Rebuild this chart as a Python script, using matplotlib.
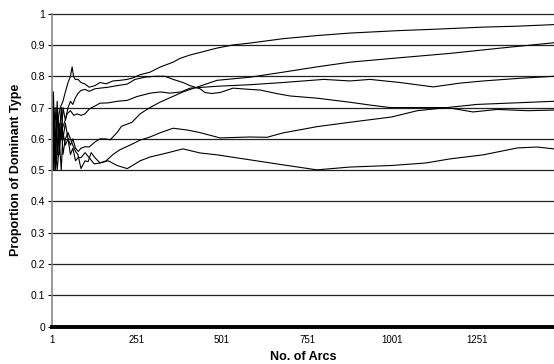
import matplotlib
matplotlib.use("Agg")
import matplotlib.pyplot as plt

plt.rcParams['font.family'] = ['Liberation Sans', 'DejaVu Sans']

# tick labels
x_ticks = [1, 251, 501, 751, 1001, 1251]
y_ticks = [0, 0.1, 0.2, 0.3, 0.4, 0.5, 0.6, 0.7, 0.8, 0.9, 1]
n_arcs = 1477

# series (arc number, proportion)
a_x = [1, 5, 10, 16, 20, 25, 33, 40, 48, 55, 60, 64, 69, 77, 86, 98, 110, 127, 142, 160, 180,
       201, 222, 239, 260, 289, 320, 357, 377, 407, 436, 486, 533, 583, 680, 780, 877, 1024,
       1122, 1269, 1369, 1477]
a_y = [0.5, 0.6, 0.5, 0.55, 0.67, 0.70, 0.72, 0.75, 0.78, 0.80, 0.83, 0.80, 0.79, 0.79, 0.78,
       0.775, 0.765, 0.77, 0.78, 0.776, 0.785, 0.787, 0.79, 0.795, 0.805, 0.813, 0.83, 0.845,
       0.857, 0.868, 0.876, 0.89, 0.90, 0.906, 0.92, 0.93, 0.938, 0.946, 0.95, 0.957, 0.96, 0.965]

b_x = [1, 5, 10, 16, 20, 25, 33, 40, 48, 55, 62, 69, 77, 86, 98, 110, 127, 142, 166, 192, 222,
       245, 274, 304, 333, 357, 386, 407, 436, 451, 470, 495, 533, 583, 613, 660, 701, 780, 877,
       936, 995, 1075, 1163, 1239, 1310, 1400, 1477]
b_y = [0.67, 0.5, 0.6, 0.5, 0.55, 0.6, 0.64, 0.66, 0.70, 0.72, 0.71, 0.73, 0.745, 0.755, 0.758,
       0.752, 0.76, 0.762, 0.765, 0.77, 0.775, 0.79, 0.797, 0.80, 0.80, 0.79, 0.78, 0.77, 0.76,
       0.748, 0.745, 0.748, 0.762, 0.758, 0.756, 0.745, 0.737, 0.73, 0.717, 0.708, 0.70, 0.70,
       0.70, 0.686, 0.694, 0.69, 0.692]

e_x = [1, 5, 10, 16, 22, 28, 33, 40, 48, 55, 62, 70, 78, 86, 98, 110, 127, 142, 157, 172, 192,
       205, 236, 260, 289, 318, 386, 486, 583, 680, 780, 877, 1000, 1171, 1320, 1477]
e_y = [0.5, 0.75, 0.5, 0.7, 0.6, 0.7, 0.6, 0.65, 0.6, 0.58, 0.6, 0.57, 0.56, 0.57, 0.575, 0.574,
       0.59, 0.60, 0.60, 0.597, 0.62, 0.64, 0.653, 0.68, 0.70, 0.717, 0.75, 0.787, 0.797, 0.813,
       0.83, 0.845, 0.857, 0.873, 0.89, 0.907]

f_x = [1, 5, 10, 16, 22, 28, 33, 40, 45, 55, 65, 75, 86, 98, 110, 127, 142, 166, 192, 222, 250,
       289, 320, 347, 380, 407, 486, 583, 680, 800, 877, 936, 1024, 1122, 1200, 1269, 1370, 1477]
f_y = [0.75, 0.6, 0.7, 0.55, 0.65, 0.6, 0.7, 0.66, 0.68, 0.69, 0.675, 0.68, 0.675, 0.68, 0.695,
       0.705, 0.714, 0.715, 0.72, 0.723, 0.735, 0.746, 0.75, 0.746, 0.75, 0.762, 0.768, 0.773,
       0.78, 0.79, 0.785, 0.79, 0.78, 0.766, 0.778, 0.785, 0.793, 0.80]

h_x = [1, 5, 10, 16, 22, 28, 33, 40, 48, 55, 62, 70, 77, 86, 98, 110, 125, 142, 160, 180, 200,
       230, 260, 289, 320, 357, 400, 436, 495, 583, 633, 680, 780, 877, 1000, 1075, 1163, 1250,
       1318, 1477]
h_y = [0.5, 0.67, 0.55, 0.72, 0.6, 0.5, 0.62, 0.58, 0.6, 0.55, 0.57, 0.53, 0.54, 0.54, 0.556,
       0.54, 0.52, 0.523, 0.53, 0.55, 0.565, 0.58, 0.596, 0.606, 0.62, 0.634, 0.628, 0.62, 0.603,
       0.606, 0.605, 0.619, 0.639, 0.653, 0.67, 0.69, 0.70, 0.71, 0.713, 0.72]

i_x = [1, 5, 10, 16, 22, 28, 33, 40, 48, 55, 62, 70, 77, 86, 98, 107, 116, 127, 142, 166, 192,
       222, 245, 260, 289, 339, 386, 436, 486, 583, 680, 780, 877, 1000, 1100, 1171, 1269, 1369,
       1427, 1477]
i_y = [0.5, 0.7, 0.6, 0.67, 0.55, 0.65, 0.55, 0.6, 0.62, 0.6, 0.58, 0.56, 0.55, 0.505, 0.53,
       0.527, 0.556, 0.54, 0.523, 0.53, 0.515, 0.505, 0.52, 0.53, 0.542, 0.555, 0.568, 0.555,
       0.549, 0.533, 0.517, 0.501, 0.51, 0.515, 0.523, 0.536, 0.549, 0.571, 0.574, 0.568]

fig = plt.figure(figsize=(5.54, 3.64), dpi=100)
ax = fig.add_axes([0.094, 0.1025, 0.906, 0.86])

for xs, ys in [(a_x, a_y), (b_x, b_y), (e_x, e_y), (f_x, f_y), (h_x, h_y), (i_x, i_y)]:
    ax.plot(xs, ys, color='black', linewidth=0.8)

ax.set_xlim(1, n_arcs)
ax.set_ylim(0, 1)
ax.set_xticks(x_ticks)
ax.set_xticklabels([str(t) for t in x_ticks])
ax.set_yticks(y_ticks)
ax.set_yticklabels([f"{t:g}" for t in y_ticks])
ax.yaxis.grid(True, color='#222222', linewidth=0.9)
for gl in ax.yaxis.get_gridlines():
    gl.set_clip_on(False)
ax.set_axisbelow(True)

ax.spines['top'].set_visible(False)
ax.spines['right'].set_visible(False)
ax.spines['bottom'].set_linewidth(2.8)
ax.spines['bottom'].set_color('black')
ax.spines['left'].set_color('#888888')
ax.spines['left'].set_linewidth(1.2)

ax.tick_params(axis='x', length=0, pad=6, labelsize=7)
ax.tick_params(axis='y', length=3, width=0.8, pad=2, labelsize=7.5)

ax.set_xlabel('No. of Arcs', fontsize=9, fontweight='bold', va='center')
ax.xaxis.set_label_coords(0.5, -0.097)
ax.set_ylabel('Proportion of Dominant Type', fontsize=9, fontweight='bold', va='center')
ax.yaxis.set_label_coords(-0.072, 0.5)

fig.savefig('out.png', dpi=100)
